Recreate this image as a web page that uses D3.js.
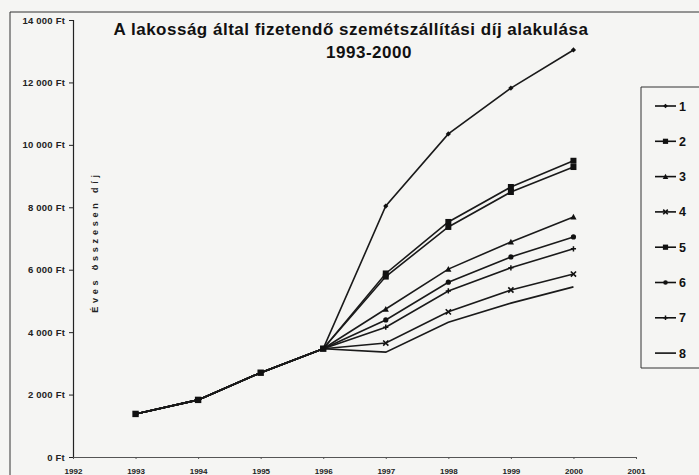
<!DOCTYPE html>
<html><head><meta charset="utf-8">
<script src="https://cdn.jsdelivr.net/npm/d3@7"></script>
<style>body{margin:0;background:#f5f5f3;}svg{display:block;}</style>
</head><body>
<svg id="c" width="699" height="475"></svg>
<script>
const years = [1992,1993,1994,1995,1996,1997,1998,1999,2000,2001];
const common = [1380,1830,2700,3470]; // 1993-1996
const s1 = [8040,10350,11820,13040];
const s2 = [5880,7530,8650,9490];
const s3 = [4740,6020,6890,7690];
const s4 = [3650,4650,5350,5860];
const s5 = [5780,7370,8490,9290];
const s6 = [4390,5600,6410,7050];
const s7 = [4160,5320,6060,6670];
const s8 = [3360,4320,4930,5450];
const seriesNames = ["1","2","3","4","5","6","7","8"];
const seriesTail = [s1,s2,s3,s4,s5,s6,s7,s8];
const markers = ["diamond","square","triangle","x","square","circle","plus","none"];
const yTicks = [0,2000,4000,6000,8000,10000,12000,14000];
const title1 = "A lakosság által fizetendő szemétszállítási díj alakulása";
const title2 = "1993-2000";
const yTitle = "Éves összesen díj";

const FONT = "Liberation Sans, Arial, sans-serif";
const svg = d3.select("#c");
const x = d3.scaleLinear().domain([1992,2001]).range([73,636]);
const y = d3.scaleLinear().domain([0,14000]).range([457,20]);

// outer frame
svg.append("path").attr("d","M10,475V12H699").attr("fill","none").attr("stroke","#333").attr("stroke-width",1);

// y axis
const ya = svg.append("g").attr("transform","translate(73,0)")
  .call(d3.axisLeft(y).tickValues(yTicks).tickSize(4).tickPadding(4).tickFormat(d => d3.format(",")(d).replace(/,/g," ") + " Ft"));
ya.select(".domain").attr("stroke","#222").attr("stroke-width",1.2);
ya.selectAll(".tick line").attr("stroke","#222");
ya.selectAll("text").attr("font-family",FONT).attr("font-size",9.5).attr("font-weight","bold").attr("fill","#222").attr("letter-spacing","0.2");

// x axis
const xa = svg.append("g").attr("transform","translate(0,457)")
  .call(d3.axisBottom(x).tickValues(years).tickSize(2).tickFormat(d3.format("d")).tickSizeOuter(0));
xa.select(".domain").attr("stroke","#555").attr("stroke-width",1);
xa.selectAll(".tick line").attr("stroke","#555");
xa.selectAll("text").attr("font-family",FONT).attr("font-size",8).attr("font-weight","bold").attr("fill","#222").attr("dy","1.45em");

// y title
svg.append("text").attr("transform","translate(98,242) rotate(-90)").attr("text-anchor","middle")
  .attr("font-family",FONT).attr("font-size",9).attr("font-weight","bold")
  .attr("letter-spacing","3.8").attr("fill","#222").text(yTitle);

// title
svg.append("text").attr("x",351).attr("y",35).attr("text-anchor","middle")
  .attr("font-family",FONT).attr("font-size",17).attr("font-weight","bold").attr("letter-spacing","0.5").attr("fill","#111").text(title1);
svg.append("text").attr("x",369).attr("y",58).attr("text-anchor","middle")
  .attr("font-family",FONT).attr("font-size",17).attr("font-weight","bold").attr("letter-spacing","0.5").attr("fill","#111").text(title2);

function drawMarker(g, type, cx, cy, s){
  const c = "#111";
  if(type==="square") g.append("rect").attr("x",cx-s).attr("y",cy-s).attr("width",2*s).attr("height",2*s).attr("fill",c);
  else if(type==="diamond") g.append("path").attr("d",`M${cx},${cy-s}L${cx+s},${cy}L${cx},${cy+s}L${cx-s},${cy}Z`).attr("fill",c);
  else if(type==="triangle") g.append("path").attr("d",`M${cx},${cy-s-0.5}L${cx+s+0.5},${cy+s}L${cx-s-0.5},${cy+s}Z`).attr("fill",c);
  else if(type==="circle") g.append("circle").attr("cx",cx).attr("cy",cy).attr("r",s).attr("fill",c);
  else if(type==="x") g.append("path").attr("d",`M${cx-s},${cy-s}L${cx+s},${cy+s}M${cx+s},${cy-s}L${cx-s},${cy+s}`).attr("stroke",c).attr("stroke-width",1.6);
  else if(type==="plus") g.append("path").attr("d",`M${cx-s},${cy}L${cx+s},${cy}M${cx},${cy-s}L${cx},${cy+s}`).attr("stroke",c).attr("stroke-width",1.5);
}

const line = d3.line().x(d=>x(d[0])).y(d=>y(d[1]));
const plot = svg.append("g");
seriesTail.forEach((tail,i)=>{
  const data = [1993,1994,1995,1996,1997,1998,1999,2000].map((yr,j)=>[yr, j<4 ? common[j] : tail[j-4]]);
  plot.append("path").datum(data).attr("d",line).attr("fill","none").attr("stroke","#1a1a1a").attr("stroke-width",1.6);
  const mg = plot.append("g");
  data.forEach((d,j)=>{ if(j>=4) drawMarker(mg, markers[i], x(d[0]), y(d[1]), markers[i]==="square"?3:2.6); });
});
// shared early points drawn as squares
common.forEach((v,j)=>drawMarker(plot,"square",x(1993+j),y(v),3.2));

// legend
const lg = svg.append("g");
lg.append("path").attr("d","M699,87H641V368H699").attr("fill","none").attr("stroke","#333").attr("stroke-width",1);
seriesNames.forEach((n,i)=>{
  const yy = 106 + i*35.3;
  lg.append("line").attr("x1",655).attr("x2",676).attr("y1",yy).attr("y2",yy).attr("stroke","#111").attr("stroke-width",1.6);
  drawMarker(lg, markers[i], 665.5, yy, markers[i]==="square"?2.6:2.3);
  lg.append("text").attr("x",679).attr("y",yy+4.5).attr("font-family",FONT)
    .attr("font-size",12.5).attr("font-weight","bold").attr("fill","#111").text(n);
});
</script>
</body></html>
